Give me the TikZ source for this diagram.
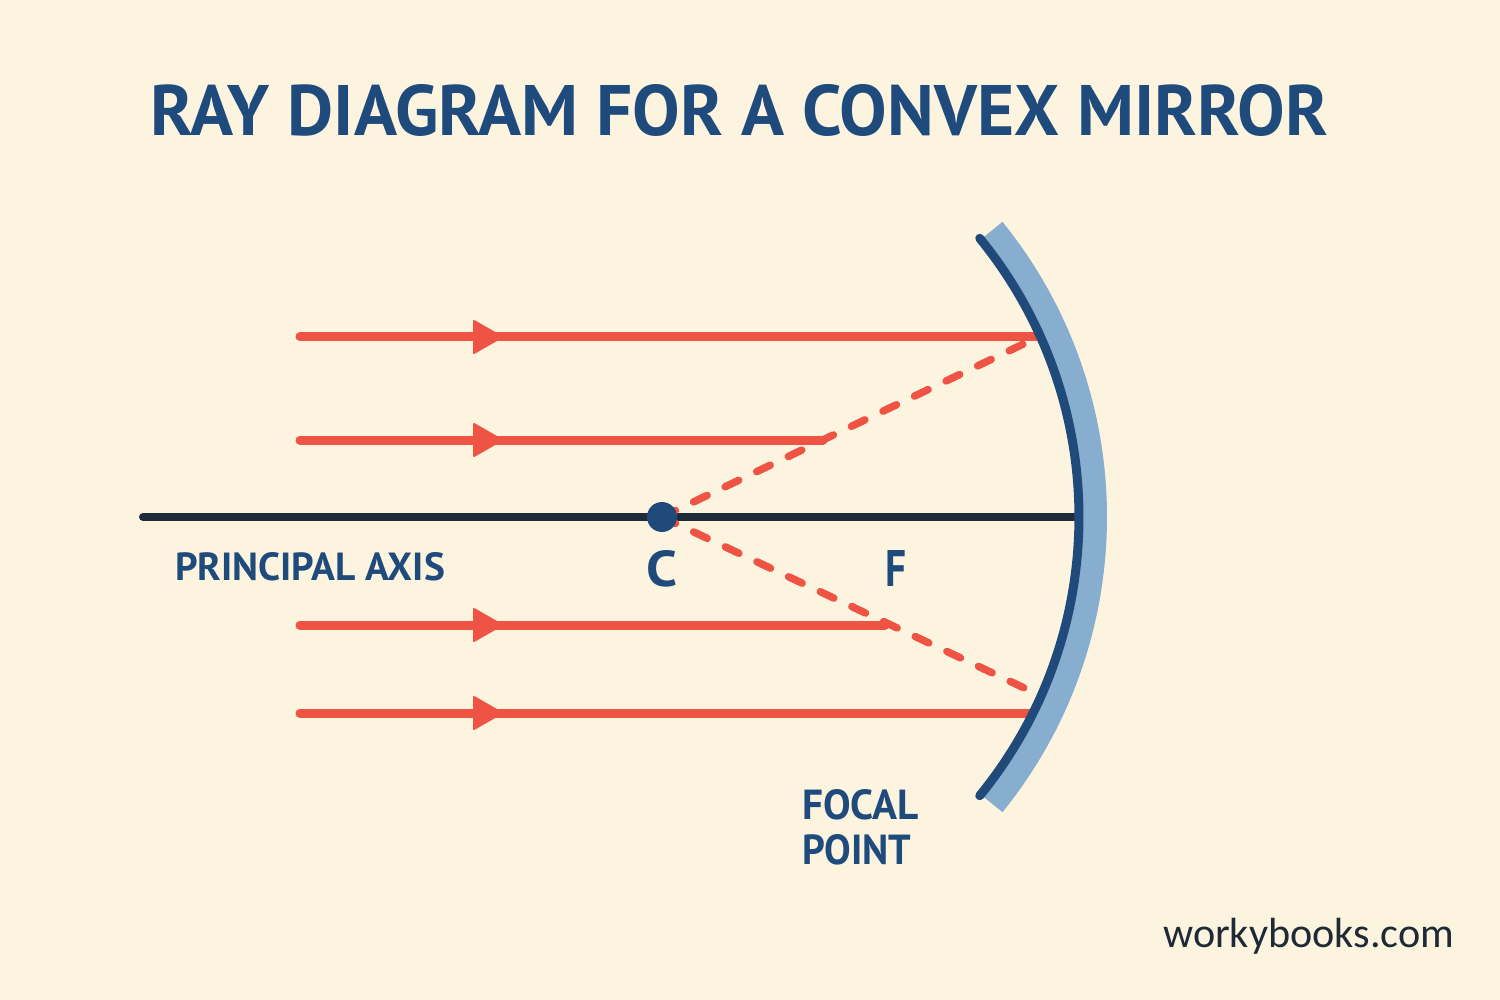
\documentclass[tikz,border=0pt]{standalone}
\usepackage{fontspec}
\setmainfont{PT Sans}
\newfontfamily\wbfont{Carlito}
\usetikzlibrary{arrows.meta,calc}
\definecolor{bgc}{HTML}{FDF4E0}
\definecolor{titleblue}{HTML}{1F4B7C}
\definecolor{rayred}{HTML}{EE5343}
\definecolor{axisdark}{HTML}{1E2B3B}
\definecolor{mlight}{HTML}{87ADCF}
\definecolor{mdark}{HTML}{1F4A7A}
\definecolor{wbgray}{HTML}{1E2A36}
\tikzset{
  ray/.style={draw=rayred, line width=9pt, line cap=round},
  headtri/.style={fill=rayred, draw=rayred, line width=2pt, line join=round},
  virtual/.style={draw=rayred, line width=7.5pt, line cap=round, dash pattern=on 15pt off 20pt},
  lbl/.style={inner sep=0pt, text=titleblue, font=\bfseries},
}
\begin{document}
\begin{tikzpicture}[x=1pt,y=-1pt]
\useasboundingbox[fill=bgc] (0,0) rectangle (1500,1000);
% coordinates
\coordinate (M) at (638,517);
\coordinate (C) at (662,517);
\coordinate (axL) at (143,517);
\coordinate (axR) at (1078,517);
\coordinate (r1s) at (300,337); \coordinate (r1a) at (474,337); \coordinate (h1) at (1038,337);
\coordinate (r2s) at (300,440); \coordinate (r2a) at (474,440); \coordinate (k2) at (823,440);
\coordinate (r3s) at (300,625); \coordinate (r3a) at (474,625); \coordinate (k3) at (885,625);
\coordinate (r4s) at (300,713); \coordinate (r4a) at (474,713); \coordinate (h4) at (1032,713);
\coordinate (h3) at (1037,694);
% axis
\draw[axisdark, line width=8pt, line cap=round] (axL) -- (axR);
% virtual rays
\draw[virtual] (C) -- (h1);
\draw[virtual] (C) -- (h3);
% rays
\draw[ray] (r1s) -- (h1);
\draw[ray] (r2s) -- (k2);
\draw[ray] (r3s) -- (k3);
\draw[ray] (r4s) -- (h4);
% arrow heads
\foreach \a in {r1a,r2a,r3a,r4a}{
  \draw[headtri] ($(\a)+(0,-16)$) -- ($(\a)+(28,0)$) -- ($(\a)+(0,16)$) -- cycle;
}
% mirror
\fill[mlight] ($(M)+(-39:444)$) arc[start angle=-39,end angle=39,radius=444]
  -- ($(M)+(39:469)$) arc[start angle=39,end angle=-39,radius=469] -- cycle;
\draw[mdark, line width=9pt, line cap=round] ($(M)+(-39.2:441)$) arc[start angle=-39.2,end angle=39.2,radius=441];
% centre point
\fill[mdark] (C) circle[radius=15];
% labels
\node[lbl] (title) at (739.5,110) {\resizebox{1177pt}{51pt}{RAY DIAGRAM FOR A CONVEX MIRROR}};
\node[lbl] (pa) at (310,567) {\resizebox{270pt}{28pt}{PRINCIPAL AXIS}};
\node[lbl] (cl) at (662,569) {\resizebox{31pt}{36pt}{C}};
\node[lbl] (fl) at (896,568) {\resizebox{21pt}{36pt}{F}};
\node[lbl, anchor=north west] (fp1) at (802,789) {\resizebox{116pt}{30pt}{FOCAL}};
\node[lbl, anchor=north west] (fp2) at (802,834) {\resizebox{109pt}{30pt}{POINT}};
\node[inner sep=0pt, anchor=base west, text=wbgray] (wb) at (1163,947) {\resizebox{291pt}{!}{\wbfont workybooks.com}};
\end{tikzpicture}
\end{document}
